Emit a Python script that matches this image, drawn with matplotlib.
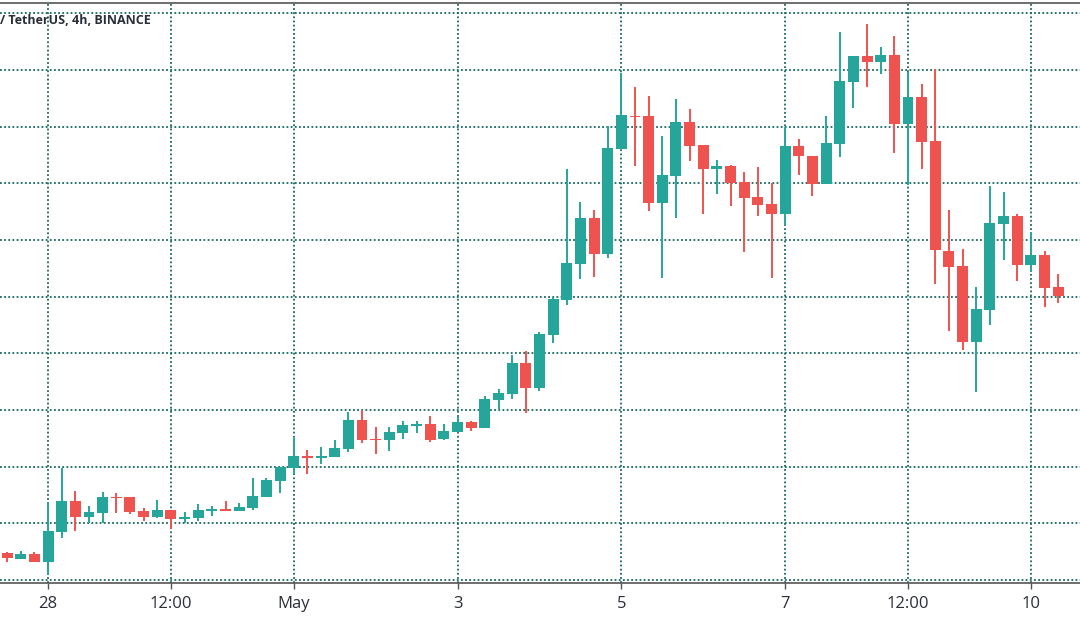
import matplotlib
matplotlib.use("Agg")
import matplotlib.pyplot as plt
import matplotlib.dates as mdates
import numpy as np
import pandas as pd

# 4h candles, first one at 2021-04-27 12:00
start = "2021-04-27 12:00"
opens = [104.8, 103.7, 104.6, 103.2, 108.5, 113.9, 111.1, 111.8, 114.6, 114.6,
         112.2, 111.1, 112.3, 110.8, 110.9, 112.2, 112.5, 112.2, 112.7, 114.6,
         117.5, 119.8, 121.9, 121.5, 121.7, 123.1, 128.2, 124.9, 124.7, 125.9,
         127.2, 127.5, 124.9, 126.1, 127.9, 126.8, 131.7, 132.8, 138.3, 133.9,
         143.2, 149.4, 155.7, 163.8, 157.5, 176.0, 181.8, 181.8, 166.5, 171.3,
         180.8, 176.7, 172.5, 173.0, 170.2, 167.5, 166.3, 164.5, 176.5, 174.9,
         169.8, 176.9, 187.8, 192.4, 191.4, 192.6, 180.4, 185.2, 177.4, 158.0,
         155.4, 142.0, 147.6, 162.8, 164.2, 155.6, 157.3, 151.7]
highs = [104.9, 105.1, 104.9, 113.8, 119.8, 115.7, 113.1, 115.5, 115.3, 114.6,
         112.7, 114.1, 112.3, 112.0, 113.4, 113.1, 113.9, 113.6, 118.0, 118.0,
         119.9, 125.0, 122.9, 123.5, 124.7, 129.6, 130.0, 127.0, 127.0, 128.0,
         128.0, 128.9, 127.5, 128.7, 128.0, 132.5, 133.7, 139.7, 140.4, 143.7,
         149.7, 172.5, 166.7, 165.3, 180.1, 189.4, 186.9, 185.4, 178.3, 184.8,
         183.1, 176.7, 174.1, 173.2, 172.0, 172.8, 170.0, 179.9, 177.9, 174.9,
         181.8, 196.6, 192.4, 198.1, 194.0, 196.0, 189.6, 187.5, 190.1, 165.3,
         158.4, 151.7, 169.5, 168.4, 164.5, 161.4, 158.0, 154.0]
lows = [103.2, 103.7, 103.2, 100.9, 107.4, 108.6, 110.1, 110.1, 111.8, 111.6,
        110.4, 110.9, 109.0, 110.1, 110.4, 111.3, 112.2, 112.2, 112.3, 114.6,
        115.3, 118.7, 118.7, 120.5, 121.7, 122.6, 124.2, 122.2, 122.8, 124.9,
        125.9, 124.3, 124.7, 126.1, 126.3, 126.8, 130.2, 131.9, 129.5, 133.3,
        141.8, 148.5, 153.1, 153.4, 156.8, 176.0, 173.0, 165.1, 153.3, 163.8,
        173.9, 164.5, 168.1, 166.0, 157.9, 164.2, 153.3, 162.6, 171.4, 167.7,
        169.8, 174.6, 183.2, 186.9, 189.2, 175.3, 169.7, 172.5, 152.2, 143.9,
        140.6, 133.2, 145.0, 156.4, 152.7, 154.3, 148.2, 148.9]
closes = [103.9, 104.6, 103.2, 108.6, 113.9, 111.1, 112.0, 114.6, 114.5, 112.0,
          111.1, 112.3, 110.8, 111.1, 112.3, 112.5, 112.2, 112.9, 114.8, 117.6,
          119.9, 121.9, 121.5, 121.9, 123.3, 128.2, 124.7, 124.7, 126.1, 127.3,
          127.5, 124.7, 126.3, 127.9, 126.8, 131.9, 133.0, 138.3, 133.9, 143.4,
          149.6, 155.9, 163.8, 157.5, 176.2, 182.0, 181.7, 166.5, 171.4, 180.8,
          176.5, 172.5, 173.0, 170.0, 167.4, 166.1, 164.5, 176.5, 174.8, 169.8,
          177.1, 188.0, 192.4, 191.4, 192.6, 180.4, 185.2, 177.2, 158.2, 155.2,
          142.0, 147.8, 163.0, 164.2, 155.6, 157.3, 151.5, 150.1]

tick_dates = ["2021-04-28 00:00", "2021-04-29 12:00", "2021-05-01 00:00", "2021-05-03 00:00",
              "2021-05-05 00:00", "2021-05-07 00:00", "2021-05-08 12:00", "2021-05-10 00:00"]
tick_labels = ["28", "12:00", "May", "3", "5", "7", "12:00", "10"]

up_color = "#26a69a"
down_color = "#ef5350"
grid_color = "#17685f"

times = pd.date_range(start, periods=len(opens), freq="4h")
x = mdates.date2num(times.to_pydatetime())
o = np.array(opens)
h = np.array(highs)
l = np.array(lows)
c = np.array(closes)
colors = np.where(c >= o, up_color, down_color)

fig = plt.figure(figsize=(10.8, 6.24), dpi=100)
ax = fig.add_axes([0, 1 - 583 / 624, 1, 580 / 624])

step = 4 / 24
ax.vlines(x, l, h, colors=colors, linewidth=1.4, zorder=3)
body_bottom = np.minimum(o, c)
body_height = np.maximum(np.abs(c - o), 0.25)
ax.bar(x, body_height, bottom=body_bottom, width=step * 0.8, color=colors,
       linewidth=0, zorder=4)

ax.set_xlim(x[3] - 3.52 * step, x[3] + 75.6 * step)
ax.set_ylim(99.5, 201.8)

ticks = mdates.date2num(pd.to_datetime(tick_dates).to_pydatetime())
ax.set_xticks(ticks)
ax.set_xticklabels(tick_labels, family="Open Sans")
ax.set_yticks(np.arange(100, 201, 10))
ax.tick_params(axis="y", left=False, labelleft=False)
ax.tick_params(axis="x", length=4, width=1, color="#555555", pad=5,
               labelsize=12, labelcolor="#2a2e39")

ax.grid(True, color=grid_color, linestyle=(0, (1, 1.3)), linewidth=1.3, zorder=0)

for side in ["left", "right"]:
    ax.spines[side].set_visible(False)
for side in ["top", "bottom"]:
    ax.spines[side].set_color("#555555")
    ax.spines[side].set_linewidth(1.2)

fig.text(0.0, 1 - 21 / 624, "/ TetherUS, 4h, BINANCE", fontsize=9, fontweight="bold",
         color="#2a2e39", family="Open Sans", va="center", ha="left")

plt.savefig("out.png", dpi=100)
